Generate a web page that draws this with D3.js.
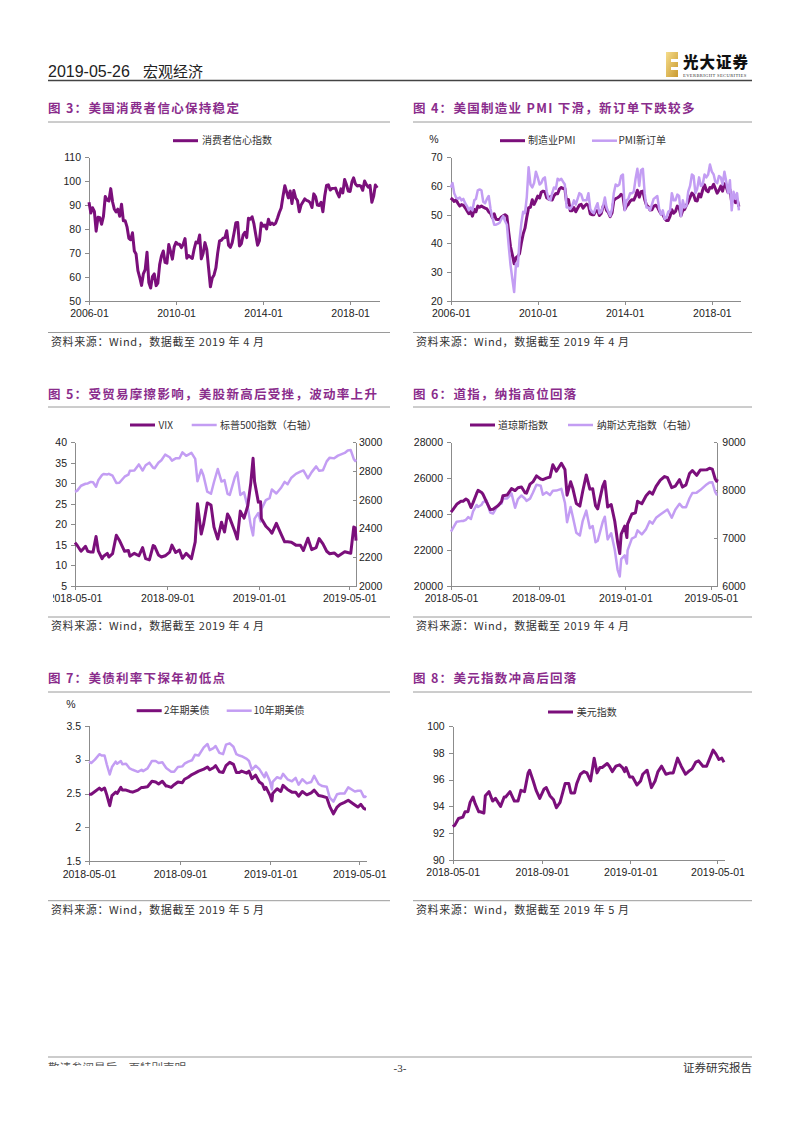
<!DOCTYPE html>
<html><head><meta charset="utf-8">
<script src="https://cdn.jsdelivr.net/npm/d3@7"></script>
<style>
body{margin:0;background:#fff}
svg{display:block}
.title{font-family:'Noto Sans CJK SC',sans-serif;font-weight:700;font-size:12.5px;letter-spacing:1.3px;fill:#8a2c8c}
.src{font-family:'Noto Sans CJK SC','Liberation Sans',sans-serif;font-size:11px;letter-spacing:0.6px;fill:#333}
.leg{font-family:'Noto Sans CJK SC','Liberation Sans',sans-serif;font-size:10px;fill:#333}
.axis text{font-family:'Liberation Sans',Arial,sans-serif;font-size:10.5px;fill:#222}
.axis path,.axis line{stroke:#8c8c8c;stroke-width:1;shape-rendering:crispEdges}
</style>
</head><body>
<svg id="page" width="802" height="1133"></svg>
<script>
// ---------------- DATA ----------------
const monthTickLabels = ["2006-01","2010-01","2014-01","2018-01"];
const dayTickLabels = ["2018-05-01","2018-09-01","2019-01-01","2019-05-01"];

// Chart 3: consumer sentiment, monthly 2006-01 .. 2019-04
const sentiment = [
91.2,86.7,88.9,87.4,79.1,84.9,84.7,82.0,85.4,93.6,92.1,91.7,
96.9,91.3,88.4,87.1,88.3,85.3,90.4,83.4,83.4,80.9,76.1,75.5,
78.4,70.8,69.5,62.6,59.8,56.4,61.2,63.0,70.3,57.6,55.3,60.1,
61.2,56.3,57.3,65.1,68.7,70.8,66.0,65.7,73.5,70.6,67.4,72.5,
74.4,73.6,73.6,72.2,73.6,76.0,67.8,68.9,68.2,67.7,71.6,74.5,
74.2,77.5,67.5,69.8,74.3,71.5,63.7,55.8,59.5,60.8,63.7,69.9,
75.0,75.3,76.2,76.4,79.3,73.2,72.3,74.3,78.3,82.6,82.7,72.9,
73.8,77.6,78.6,76.4,84.5,84.1,85.1,82.1,77.5,73.2,75.1,82.5,
81.2,81.6,80.0,84.1,81.9,82.5,81.8,82.5,84.6,86.9,88.8,93.6,
98.1,95.4,93.0,95.9,90.7,96.1,93.1,91.9,87.2,90.0,91.3,92.6,
92.0,91.7,91.0,89.0,94.7,93.5,90.0,89.8,91.2,87.2,93.8,98.2,
98.5,96.3,96.9,97.0,97.1,95.0,93.4,96.8,95.1,100.7,98.5,95.9,
95.7,99.7,101.4,98.8,98.0,98.2,97.9,96.2,100.1,98.6,97.5,98.3,
91.2,93.8,98.4,97.2];

// Chart 4: ISM manufacturing PMI and new orders, monthly 2006-01 .. 2019-04
const pmi = [
55.8,55.3,54.6,55.2,54.0,53.0,53.5,53.3,52.4,51.4,50.3,51.2,
49.5,51.8,51.0,53.0,52.6,53.0,52.6,52.3,52.0,51.0,50.4,49.0,
50.3,48.4,48.3,48.4,49.2,49.6,50.0,49.5,43.8,38.8,36.0,32.9,
35.0,35.5,36.4,40.1,43.2,45.3,49.1,52.4,52.6,55.2,53.6,54.9,
56.5,55.8,57.8,58.2,58.0,55.9,55.4,56.3,55.1,56.6,57.4,57.3,
59.0,59.5,59.1,59.2,54.1,55.3,51.4,51.4,52.5,51.0,52.2,53.3,
53.6,52.3,53.1,53.7,53.2,50.3,50.0,50.0,51.4,51.4,49.7,50.4,
52.8,53.9,51.5,50.7,49.3,50.6,55.0,55.6,55.9,56.3,57.1,56.6,
51.8,53.0,53.6,54.7,55.2,55.1,56.5,58.5,56.1,58.0,58.2,55.3,
53.3,52.7,51.6,51.7,52.9,53.3,52.7,51.4,50.3,50.0,48.7,48.0,
48.0,49.5,51.7,50.5,51.1,53.0,52.5,49.6,51.5,51.8,53.3,54.4,
56.0,57.5,57.0,54.9,54.8,57.2,56.2,58.6,60.4,58.5,58.0,59.5,
59.3,60.6,59.1,57.5,58.5,60.0,58.2,60.8,59.6,57.7,58.8,54.3,
56.6,54.2,55.3,52.8];
const pmiNewOrders = [
59.5,61.0,57.5,56.0,55.5,56.0,55.0,55.5,54.0,53.0,51.5,52.5,
51.5,55.0,55.5,58.5,58.8,58.5,54.5,54.0,55.5,56.5,52.0,49.0,
46.5,46.5,46.8,47.2,48.5,49.5,47.8,46.5,39.0,32.5,27.5,23.0,
33.0,32.0,41.0,47.0,51.0,50.5,56.0,66.5,60.5,59.5,61.0,65.0,
63.0,60.5,61.0,62.5,63.0,58.0,55.5,55.0,57.5,59.5,59.0,62.5,
62.0,62.5,61.5,60.5,52.5,52.5,52.0,53.0,55.0,53.5,55.5,57.5,
57.0,55.0,55.0,55.0,57.5,52.0,51.0,50.5,52.5,54.0,50.5,51.0,
53.0,56.0,52.5,51.0,49.5,52.0,57.5,60.5,60.0,60.5,63.5,64.0,
51.5,55.0,55.5,57.5,57.5,58.0,62.5,66.0,60.0,65.5,66.0,57.5,
52.5,52.5,51.5,53.5,55.5,56.0,56.5,52.0,50.0,51.5,48.5,49.0,
51.0,51.5,57.5,55.0,55.0,57.0,56.5,49.5,55.0,52.5,53.0,58.0,
60.0,64.0,63.5,57.5,59.0,63.0,60.0,60.5,64.0,63.0,64.0,67.5,
65.0,64.0,61.5,61.0,63.5,63.0,60.5,65.0,61.5,57.5,62.0,51.5,
58.0,55.5,57.5,51.5];

// Charts 5-8: sampled daily series, 2018-05-01 .. 2019-05-10
const dailyDates = [
"2018-05-01","2018-05-04","2018-05-09","2018-05-15","2018-05-18","2018-05-22","2018-05-25","2018-05-29","2018-06-01","2018-06-06",
"2018-06-08","2018-06-13","2018-06-15","2018-06-20","2018-06-25","2018-06-29","2018-07-06","2018-07-11","2018-07-13","2018-07-19",
"2018-07-25","2018-07-30","2018-08-03","2018-08-08","2018-08-13","2018-08-15","2018-08-20","2018-08-24","2018-08-29","2018-09-04",
"2018-09-07","2018-09-12","2018-09-17","2018-09-21","2018-09-26","2018-10-03","2018-10-08","2018-10-11","2018-10-16","2018-10-19",
"2018-10-24","2018-10-29","2018-11-02","2018-11-07","2018-11-12","2018-11-16","2018-11-20","2018-11-23","2018-11-30","2018-12-03",
"2018-12-07","2018-12-12","2018-12-17","2018-12-21","2018-12-24","2018-12-26","2018-12-31","2019-01-03","2019-01-04","2019-01-10",
"2019-01-15","2019-01-18","2019-01-24","2019-01-30","2019-02-04","2019-02-08","2019-02-13","2019-02-19","2019-02-25","2019-03-01",
"2019-03-07","2019-03-12","2019-03-18","2019-03-22","2019-03-27","2019-04-01","2019-04-05","2019-04-11","2019-04-16","2019-04-25",
"2019-04-29","2019-05-03","2019-05-07","2019-05-09","2019-05-10"];
const vix = [
15.5,14.8,13.4,14.6,13.4,13.2,13.2,17.0,13.5,11.6,
12.2,12.9,12.0,12.8,17.3,16.1,13.4,13.6,12.2,12.9,
12.3,14.3,11.6,11.3,14.8,14.6,12.5,12.0,12.3,13.2,
14.9,13.1,13.7,11.7,12.9,11.6,15.7,25.0,17.6,19.9,
25.2,24.7,19.3,16.4,20.5,18.1,22.5,21.5,18.1,16.4,
23.2,21.5,24.5,30.1,36.1,30.4,25.4,25.5,21.4,19.5,
18.6,17.8,20.2,17.7,15.7,15.7,15.6,14.9,14.9,13.6,
16.6,13.8,14.3,16.5,15.2,13.4,12.8,13.0,12.2,13.3,
13.1,12.9,19.3,19.1,16.0];
const spx = [
2655,2663,2697,2711,2713,2724,2721,2690,2735,2772,
2779,2776,2780,2767,2717,2718,2760,2774,2801,2804,
2846,2803,2840,2858,2822,2819,2857,2875,2914,2896,
2872,2888,2889,2930,2906,2926,2884,2728,2809,2768,
2656,2641,2723,2814,2726,2736,2641,2633,2760,2790,
2633,2651,2546,2417,2351,2468,2507,2448,2532,2597,
2611,2671,2643,2681,2724,2708,2753,2780,2796,2804,
2749,2792,2832,2801,2805,2867,2893,2888,2907,2926,
2943,2946,2884,2870,2881];
const dji = [
24100,24263,24542,24706,24715,24834,24753,24361,24635,25146,
25317,25201,25090,24658,24252,24271,24456,24700,25019,25065,
25415,25307,25463,25509,25188,25162,25669,25790,26125,25952,
25917,25999,26062,26744,26385,26828,26487,25052,25798,25444,
24584,24443,25271,26180,25387,25413,24465,24286,25538,25826,
24389,24527,23593,22445,21792,22878,23327,22686,23433,24001,
24065,24706,24575,25015,25239,25106,25543,25891,26091,26026,
25473,25554,25914,25502,25626,26259,26425,26157,26452,26462,
26554,26505,25965,25828,25942];
const ixic = [
7130,7209,7340,7351,7354,7378,7434,7396,7554,7689,
7646,7695,7746,7782,7532,7510,7688,7716,7826,7825,
7932,7630,7812,7888,7820,7774,7821,7945,8110,8091,
7903,7954,7896,7987,7990,8025,7736,7329,7645,7449,
7108,7050,7357,7570,7200,7247,6909,6939,7331,7442,
6969,7098,6753,6333,6193,6554,6635,6463,6739,6986,
7024,7157,7073,7184,7348,7298,7420,7487,7554,7595,
7421,7591,7714,7643,7643,7829,7939,7947,8000,8119,
8161,8164,7963,7910,7917];
const ust2y = [
2.49,2.49,2.53,2.58,2.55,2.58,2.48,2.32,2.47,2.52,
2.50,2.59,2.55,2.55,2.53,2.52,2.55,2.59,2.59,2.60,
2.68,2.67,2.64,2.68,2.61,2.61,2.59,2.63,2.67,2.66,
2.71,2.74,2.78,2.80,2.83,2.86,2.89,2.85,2.88,2.91,
2.82,2.81,2.91,2.96,2.93,2.81,2.81,2.83,2.80,2.83,
2.72,2.77,2.67,2.64,2.56,2.59,2.48,2.39,2.50,2.57,
2.53,2.62,2.56,2.52,2.52,2.46,2.53,2.48,2.51,2.55,
2.47,2.46,2.44,2.31,2.20,2.30,2.34,2.37,2.40,2.33,
2.30,2.34,2.28,2.27,2.27];
const ust10y = [
2.97,2.95,3.00,3.08,3.06,3.06,2.93,2.78,2.89,2.97,
2.94,2.98,2.93,2.94,2.87,2.85,2.82,2.85,2.83,2.87,
2.98,2.98,2.95,2.96,2.88,2.86,2.82,2.82,2.89,2.90,
2.94,2.97,2.99,3.07,3.06,3.18,3.23,3.14,3.17,3.20,
3.10,3.08,3.22,3.24,3.19,3.08,3.06,3.05,3.01,2.98,
2.85,2.91,2.86,2.79,2.74,2.81,2.69,2.56,2.67,2.74,
2.72,2.79,2.71,2.68,2.73,2.63,2.71,2.65,2.67,2.76,
2.64,2.61,2.60,2.44,2.38,2.49,2.50,2.50,2.59,2.53,
2.54,2.54,2.45,2.45,2.47];
const dxy = [
92.5,92.6,93.1,93.2,93.6,93.6,94.3,94.7,94.2,93.6,
93.6,93.5,94.8,95.1,94.4,94.6,94.0,94.7,94.7,95.1,
94.4,94.4,95.2,95.1,96.5,96.7,95.9,95.2,94.6,95.3,
95.4,94.8,94.5,93.9,94.3,95.7,95.7,95.0,95.0,95.7,
96.4,96.6,96.5,95.9,97.6,96.5,96.9,96.9,97.2,97.0,
96.6,97.0,97.1,96.9,96.6,96.9,96.2,96.2,96.2,95.6,
95.9,96.4,96.7,95.4,95.9,96.6,97.0,96.4,96.5,96.5,
97.6,97.0,96.4,96.6,96.8,97.3,97.4,97.0,97.0,98.2,
97.9,97.5,97.6,97.4,97.3];

// ---------------- DRAWING ----------------
const DARK = "#7b0f7b", LIGHT = "#c39df3";
const svg = d3.select("#page");
const defs = svg.append("defs");
const pDay = d3.timeParse("%Y-%m-%d"), pMonth = d3.timeParse("%Y-%m");
const fDay = d3.timeFormat("%Y-%m-%d"), fMonth = d3.timeFormat("%Y-%m");
const months = d3.timeMonth.range(new Date(2006,0,1), new Date(2019,4,1));
const days = dailyDates.map(pDay);
const zip = (dates, vals) => vals.map((v,i)=>({d:dates[i], v}));

// header
svg.append("text").attr("x",48).attr("y",77).attr("font-family","'Liberation Sans',sans-serif")
  .attr("font-size",16).attr("fill","#222").text("2019-05-26");
svg.append("text").attr("x",143).attr("y",77).attr("font-family","'Noto Sans CJK SC',sans-serif")
  .attr("font-size",15).attr("fill","#222").text("宏观经济");
svg.append("line").attr("x1",48).attr("x2",752).attr("y1",80.5).attr("y2",80.5).attr("stroke","#444").attr("stroke-width",1.5);
// logo
const grad = defs.append("linearGradient").attr("id","gold").attr("x1",0).attr("x2",1).attr("y1",0).attr("y2",1);
grad.append("stop").attr("offset","0%").attr("stop-color","#f6dd8c");
grad.append("stop").attr("offset","100%").attr("stop-color","#c9992e");
const logo = svg.append("g").attr("transform","translate(666,52)");
logo.append("rect").attr("width",12).attr("height",25).attr("fill","url(#gold)");
logo.append("rect").attr("x",5).attr("y",7).attr("width",7).attr("height",3).attr("fill","#fff");
logo.append("rect").attr("x",5).attr("y",15).attr("width",7).attr("height",3).attr("fill","#fff");
logo.append("text").attr("x",17).attr("y",16).attr("font-family","'Noto Sans CJK SC',sans-serif").attr("font-weight",900)
  .attr("font-size",15.5).attr("letter-spacing",1).attr("fill","#111").text("光大证券");
logo.append("text").attr("x",17).attr("y",24.5).attr("font-family","'Liberation Serif',serif")
  .attr("font-size",4.6).attr("letter-spacing",0.35).attr("fill","#333").text("EVERBRIGHT SECURITIES");

// footer
svg.append("line").attr("x1",48).attr("x2",752).attr("y1",1057).attr("y2",1057).attr("stroke","#999").attr("stroke-width",1);
defs.append("clipPath").attr("id","footclip").append("rect").attr("x",0).attr("y",1058).attr("width",400).attr("height",8);
svg.append("text").attr("x",48).attr("y",1072).attr("clip-path","url(#footclip)").attr("font-family","'Noto Sans CJK SC',sans-serif")
  .attr("font-size",11.5).attr("fill","#555").text("敬请参阅最后一页特别声明");
svg.append("text").attr("x",400).attr("y",1072).attr("text-anchor","middle").attr("font-family","'Liberation Serif',serif")
  .attr("font-size",11).attr("fill","#333").text("-3-");
svg.append("text").attr("x",752).attr("y",1072).attr("text-anchor","end").attr("font-family","'Noto Sans CJK SC',sans-serif")
  .attr("font-size",11.5).attr("fill","#333").text("证券研究报告");

let clipN = 0;
function drawChart(c){
  const g = svg.append("g");
  g.append("text").attr("class","title").attr("x",c.x0).attr("y",c.titleY+4.5).text(c.title);
  g.append("line").attr("x1",c.x0).attr("x2",c.x0+c.w).attr("y1",c.titleLineY).attr("y2",c.titleLineY)
    .attr("stroke","#9a9a9a").attr("stroke-width",1);
  g.append("line").attr("x1",c.x0).attr("x2",c.x0+c.w).attr("y1",c.srcLineY).attr("y2",c.srcLineY)
    .attr("stroke","#9a9a9a").attr("stroke-width",1);
  g.append("text").attr("class","src").attr("x",c.x0+3).attr("y",c.srcY+4).text(c.source);

  const pg = g.append("g");
  if (c.clipLeft != null){
    const id = "cl"+(clipN++);
    defs.append("clipPath").attr("id",id).append("rect").attr("x",c.clipLeft).attr("y",0).attr("width",802).attr("height",1133);
    pg.attr("clip-path",`url(#${id})`);
  }
  const x = d3.scaleTime().domain(c.xDomain).range([c.left,c.right]);
  const y = d3.scaleLinear().domain(c.yDomain).range([c.bottom,c.top]);
  pg.append("g").attr("class","axis").attr("transform",`translate(0,${c.bottom})`)
    .call(d3.axisBottom(x).tickValues(c.xTicks).tickFormat(c.xFmt).tickSizeInner(4).tickSizeOuter(0).tickPadding(5));
  pg.append("g").attr("class","axis").attr("transform",`translate(${c.left},0)`)
    .call(d3.axisLeft(y).tickValues(c.yTicks).tickFormat(c.yFmt).tickSizeInner(4).tickSizeOuter(0).tickPadding(4));
  let y2 = null;
  if (c.y2Domain){
    y2 = d3.scaleLinear().domain(c.y2Domain).range([c.bottom,c.top]);
    pg.append("g").attr("class","axis").attr("transform",`translate(${c.right},0)`)
      .call(d3.axisRight(y2).tickValues(c.y2Ticks).tickFormat(d3.format("d")).tickSizeInner(c.y2Tick).tickSizeOuter(0).tickPadding(c.y2Pad));
  }
  if (c.unit){
    g.append("text").attr("x",c.unit[0]).attr("y",c.unit[1]+4).attr("text-anchor","middle")
      .attr("font-family","'Liberation Sans',sans-serif").attr("font-size",10.5).attr("fill","#222").text("%");
  }
  c.legend.forEach(l=>{
    g.append("line").attr("x1",l.x1).attr("x2",l.x2).attr("y1",c.legendY).attr("y2",c.legendY)
      .attr("stroke",l.color).attr("stroke-width",l.w);
    g.append("text").attr("class","leg").attr("x",l.tx).attr("y",c.legendY+3.6).text(l.label);
  });
  c.series.forEach(s=>{
    const ys = s.axis===2 ? y2 : y;
    const line = d3.line().x(d=>x(d.d)).y(d=>ys(d.v));
    pg.append("path").attr("d",line(s.data)).attr("fill","none").attr("stroke",s.color)
      .attr("stroke-width",s.w).attr("stroke-linejoin","round").attr("stroke-linecap","butt");
  });
}

const mTicks = monthTickLabels.map(pMonth);
const dTicks = dayTickLabels.map(pDay);
const mDomain = [new Date(2006,0,1), new Date(2019,4,1)];
const dDomain = [pDay("2018-05-01"), pDay("2019-05-10")];
const src4 = "资料来源：Wind，数据截至 2019 年 4 月";
const src5 = "资料来源：Wind，数据截至 2019 年 5 月";

drawChart({x0:48,w:342,title:"图 3：美国消费者信心保持稳定",titleY:108,titleLineY:122,srcLineY:332.5,srcY:341.5,source:src4,
  left:89,right:379,top:157.3,bottom:300.7,xDomain:mDomain,xTicks:mTicks,xFmt:fMonth,
  yDomain:[50,110],yTicks:d3.range(50,111,10),yFmt:d3.format("d"),
  legendY:140.7,legend:[{x1:173,x2:198,tx:202,color:DARK,w:3,label:"消费者信心指数"}],
  series:[{data:zip(months,sentiment),color:DARK,w:3}]});

drawChart({x0:413,w:339,title:"图 4：美国制造业 PMI 下滑，新订单下跌较多",titleY:108,titleLineY:122,srcLineY:332.5,srcY:341.5,source:src4,
  left:450.7,right:740.7,top:157.3,bottom:300.7,xDomain:mDomain,xTicks:mTicks,xFmt:fMonth,
  yDomain:[20,70],yTicks:d3.range(20,71,10),yFmt:d3.format("d"),unit:[434,139],
  legendY:140.7,legend:[{x1:500,x2:525,tx:528,color:DARK,w:3,label:"制造业PMI"},{x1:592,x2:617,tx:618.5,color:LIGHT,w:2.5,label:"PMI新订单"}],
  series:[{data:zip(months,pmi),color:DARK,w:3},{data:zip(months,pmiNewOrders),color:LIGHT,w:2.5}]});

drawChart({x0:48,w:342,title:"图 5：受贸易摩擦影响，美股新高后受挫，波动率上升",titleY:394,titleLineY:407,srcLineY:617,srcY:626,source:src4,
  left:75,right:356,top:442.3,bottom:585.7,xDomain:dDomain,xTicks:dTicks,xFmt:fDay,clipLeft:53,
  yDomain:[5,40],yTicks:d3.range(5,41,5),yFmt:d3.format("d"),
  y2Domain:[2000,3000],y2Ticks:d3.range(2000,3001,200),y2Tick:-3,y2Pad:3,
  legendY:425,legend:[{x1:130,x2:155,tx:158.5,color:DARK,w:3,label:"VIX"},{x1:191.7,x2:216.7,tx:220,color:LIGHT,w:2.5,label:"标普500指数（右轴）"}],
  series:[{data:zip(days,spx),color:LIGHT,w:2.5,axis:2},{data:zip(days,vix),color:DARK,w:3}]});

drawChart({x0:413,w:339,title:"图 6：道指，纳指高位回落",titleY:394,titleLineY:407,srcLineY:617,srcY:626,source:src4,
  left:451,right:717.3,top:442.3,bottom:585.7,xDomain:dDomain,xTicks:dTicks,xFmt:fDay,
  yDomain:[20000,28000],yTicks:d3.range(20000,28001,2000),yFmt:d3.format("d"),
  y2Domain:[6000,9000],y2Ticks:d3.range(6000,9001,1000),y2Tick:-3,y2Pad:5,
  legendY:425,legend:[{x1:470,x2:495,tx:498,color:DARK,w:3,label:"道琼斯指数"},{x1:568,x2:593,tx:596.7,color:LIGHT,w:2.5,label:"纳斯达克指数（右轴）"}],
  series:[{data:zip(days,ixic),color:LIGHT,w:2.5,axis:2},{data:zip(days,dji),color:DARK,w:3}]});

drawChart({x0:48,w:342,title:"图 7：美债利率下探年初低点",titleY:678,titleLineY:692,srcLineY:900.7,srcY:910,source:src5,
  left:89,right:366,top:725.7,bottom:861.3,xDomain:dDomain,xTicks:dTicks,xFmt:fDay,
  yDomain:[1.5,3.5],yTicks:[1.5,2,2.5,3,3.5],yFmt:d3.format("~g"),unit:[71,704],
  legendY:710.7,legend:[{x1:136.7,x2:161.7,tx:164,color:DARK,w:3,label:"2年期美债"},{x1:226.7,x2:251.7,tx:253.5,color:LIGHT,w:2.5,label:"10年期美债"}],
  series:[{data:zip(days,ust2y),color:DARK,w:3},{data:zip(days,ust10y),color:LIGHT,w:2.5}]});

drawChart({x0:413,w:339,title:"图 8：美元指数冲高后回落",titleY:678,titleLineY:692,srcLineY:900.7,srcY:910,source:src5,
  left:452.7,right:724,top:726,bottom:860,xDomain:dDomain,xTicks:dTicks,xFmt:fDay,
  yDomain:[90,100],yTicks:d3.range(90,101,2),yFmt:d3.format("d"),
  legendY:712,legend:[{x1:548,x2:573,tx:576.7,color:DARK,w:3,label:"美元指数"}],
  series:[{data:zip(days,dxy),color:DARK,w:3}]});
</script>
</body></html>
